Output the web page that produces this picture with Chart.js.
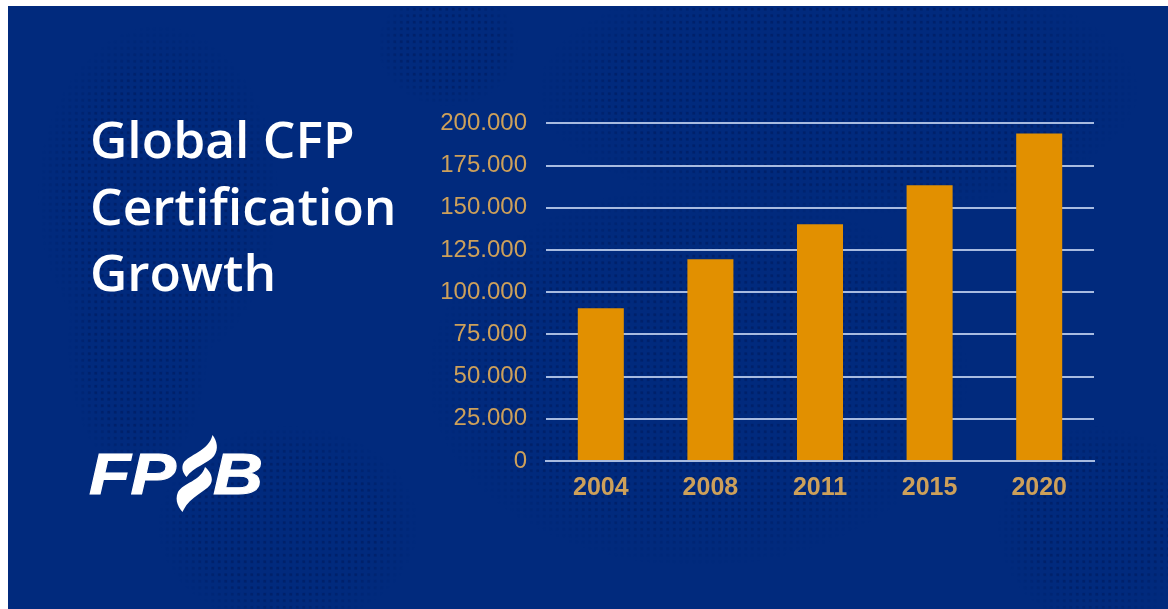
<!DOCTYPE html>
<html>
<head>
<meta charset="utf-8">
<title>Global CFP Certification Growth</title>
<script src="https://cdn.jsdelivr.net/npm/chart.js@4"></script>
<style>
    html, body { margin: 0; padding: 0; background: #fff; overflow: hidden; }
    #slide { position: absolute; left: 8px; top: 6px; width: 1160px; height: 603px; background: #012a7d; overflow: hidden; }
    /* faint dotted world map behind everything */
    #dots {
        position: absolute; left: 0; top: 0; width: 100%; height: 100%;
        background-image: radial-gradient(circle, rgba(0, 24, 88, .5) 1.2px, transparent 1.8px);
        background-size: 6.5px 6.5px;
        -webkit-mask-image:
            radial-gradient(ellipse 120px 170px at 150px 190px, #000 70%, transparent 100%),
            radial-gradient(ellipse 70px 130px at 130px 340px, #000 70%, transparent 100%),
            radial-gradient(ellipse 130px 100px at 280px 520px, #000 70%, transparent 100%),
            radial-gradient(ellipse 70px 60px at 440px 40px, #000 70%, transparent 100%),
            radial-gradient(ellipse 270px 190px at 690px 370px, #000 75%, transparent 100%),
            radial-gradient(ellipse 300px 125px at 830px 85px, #000 75%, transparent 100%),
            radial-gradient(ellipse 100px 100px at 1090px 520px, #000 65%, transparent 100%);
    }
    #title {
        position: absolute; left: 82px; top: 99px; margin: 0; color: #fff;
        font: 600 51.5px/66.5px "Open Sans", sans-serif;
    }
    #logo { position: absolute; left: 0; top: 0; }
    #chartBox { position: absolute; left: 422px; top: 84px; }
</style>
</head>
<body>
<div id="slide">
    <div id="dots"></div>
    <h1 id="title">Global CFP<br>Certification<br>Growth</h1>
    <svg id="logo" width="300" height="603" viewBox="8 6 300 603">
        <g fill="#fff" stroke="#fff" stroke-width="1" font-family="Liberation Sans" font-weight="700" font-style="italic" font-size="57">
            <text x="89" y="493.5" textLength="87" lengthAdjust="spacingAndGlyphs">FP</text>
            <text x="213" y="493.5" textLength="50" lengthAdjust="spacingAndGlyphs">B</text>
        </g>
        <!-- the ribbon between the letters -->
        <path fill="#fff" d="M212.5 435 C217 441 219 449 214 456 C209 463 193 467 186.5 477 C183 473 181 468 183.5 463 C188 455 209 451 212.5 435 Z"/>
        <path fill="#fff" d="M205 467 C211 472 214 479 210 485 C205 492 189 497 182.5 512 C177 506 175 499 178 492 C183 483 201 481 205 467 Z"/>
    </svg>
    <div id="chartBox"><canvas id="growthChart" width="700" height="430"></canvas></div>
</div>

<script>
const years = ['2004', '2008', '2011', '2015', '2020'];
const certificants = [90500, 119500, 140200, 163300, 194000];
const yTickLabels = ['0', '25.000', '50.000', '75.000', '100.000', '125.000', '150.000', '175.000', '200.000'];

const labelColor = '#cda05a';
const lineColor = '#a8bbe0';

new Chart(document.getElementById('growthChart'), {
    type: 'bar',
    data: {
        labels: years,
        datasets: [{
            data: certificants,
            backgroundColor: '#e29000',
            categoryPercentage: 1,
            barPercentage: 0.42
        }]
    },
    options: {
        responsive: false,
        animation: false,
        layout: { padding: { top: 13, right: 36, bottom: 0, left: 0 } },
        plugins: {
            legend: { display: false },
            tooltip: { enabled: false }
        },
        scales: {
            x: {
                grid: { display: false, drawTicks: false },
                border: { color: lineColor, width: 2 },
                ticks: {
                    color: labelColor,
                    padding: 12,
                    font: { family: 'Liberation Sans', size: 25, weight: 'bold' }
                },
                afterFit: function (scale) { scale.height = 59; }
            },
            y: {
                min: 0,
                max: 200000,
                grid: { color: lineColor, lineWidth: 2, drawTicks: false },
                border: { display: false },
                ticks: {
                    stepSize: 25000,
                    color: labelColor,
                    padding: 19,
                    font: { family: 'Liberation Sans', size: 24 },
                    callback: function (value, index) { return yTickLabels[index]; }
                },
                afterFit: function (scale) { scale.width = 116; }
            }
        }
    }
});
</script>
</body>
</html>
